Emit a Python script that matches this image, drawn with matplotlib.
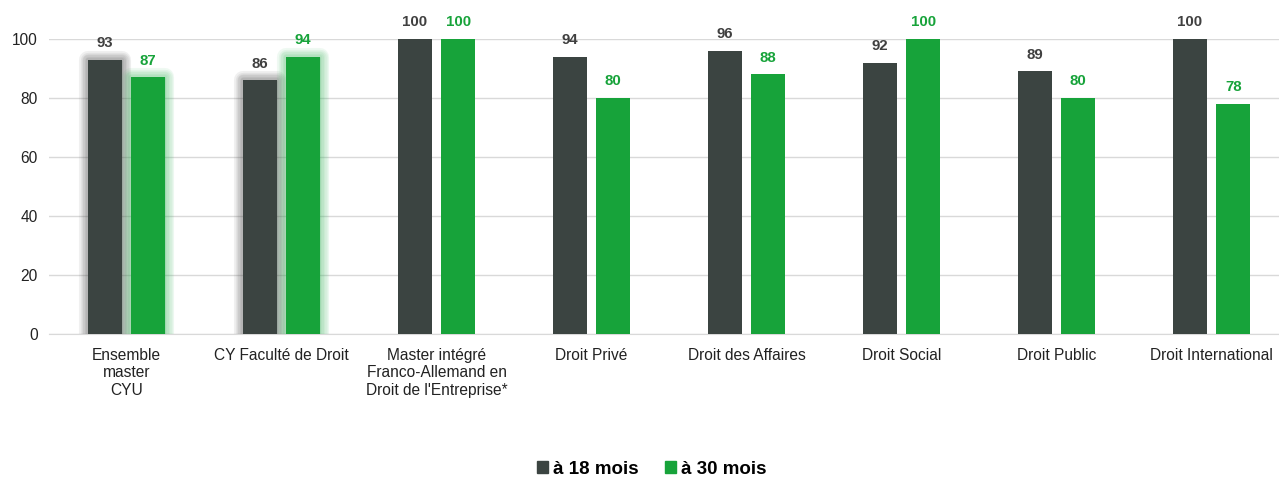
import matplotlib
matplotlib.use("Agg")
import matplotlib.pyplot as plt
import matplotlib.patheffects as pe
from matplotlib.patches import Patch
import numpy as np

plt.rcParams['font.family'] = ['Liberation Sans', 'DejaVu Sans']

# data
categories = ["Ensemble\nmaster\nCYU", "CY Faculté de Droit",
              "Master intégré\nFranco-Allemand en\nDroit de l'Entreprise*",
              "Droit Privé", "Droit des Affaires", "Droit Social",
              "Droit Public", "Droit International"]
mois_18 = [93, 86, 100, 94, 96, 92, 89, 100]
mois_30 = [87, 94, 100, 80, 88, 100, 80, 78]
glow_groups = [0, 1]  # bars highlighted with a glow

dark = "#3b4441"
green = "#17a33a"

fig = plt.figure(figsize=(12.79, 4.79), dpi=100)
ax = fig.add_axes([49 / 1279, 1 - 334 / 479, 1 - 49 / 1279, (334 - 39) / 479])

x = np.arange(len(categories))
w = 0.22
off = 0.14

def glow(color):
    # soft halo: several thin transparent strokes, widest first
    return [pe.Stroke(linewidth=lw, foreground=color, alpha=0.08, joinstyle='round')
            for lw in range(13, 1, -2)] + [pe.Normal()]

b1 = ax.bar(x - off, mois_18, w, color=dark, zorder=3)
b2 = ax.bar(x + off, mois_30, w, color=green, zorder=3)
for i in glow_groups:
    b1[i].set_path_effects(glow("#444444"))
    b2[i].set_path_effects(glow("#3fb860"))

for xi, v in zip(x, mois_18):
    ax.text(xi - off, v + 3.3, str(v), ha='center', va='bottom', fontsize=10.8,
            fontweight='bold', color="#404040", clip_on=False)
for xi, v in zip(x, mois_30):
    ax.text(xi + off, v + 3.3, str(v), ha='center', va='bottom', fontsize=10.8,
            fontweight='bold', color=green, clip_on=False)

ax.set_xlim(-0.5, 7.435)
ax.set_ylim(0, 100)
ax.set_yticks(range(0, 101, 20))
ax.set_xticks(x)
ax.set_xticklabels(categories, fontsize=11.2, linespacing=1.2, color="#222222")
ax.tick_params(axis='y', labelsize=11.2, colors="#222222", length=0, pad=8)
ax.tick_params(axis='x', length=0, pad=10)
ax.grid(axis='y', color="#d9d9d9", linewidth=1, zorder=0)
for s in ['top', 'right', 'left']:
    ax.spines[s].set_visible(False)
ax.spines['bottom'].set_color("#d9d9d9")

handles = [Patch(color=dark, label="à 18 mois"), Patch(color=green, label="à 30 mois")]
fig.legend(handles=handles, loc='center', bbox_to_anchor=(652 / 1279, 1 - 469 / 479),
           ncol=2, frameon=False, prop={'size': 13.5, 'weight': 'bold'},
           handlelength=0.55, handleheight=0.55, handletextpad=0.3, columnspacing=1.4)

fig.savefig("out.png", dpi=100)
